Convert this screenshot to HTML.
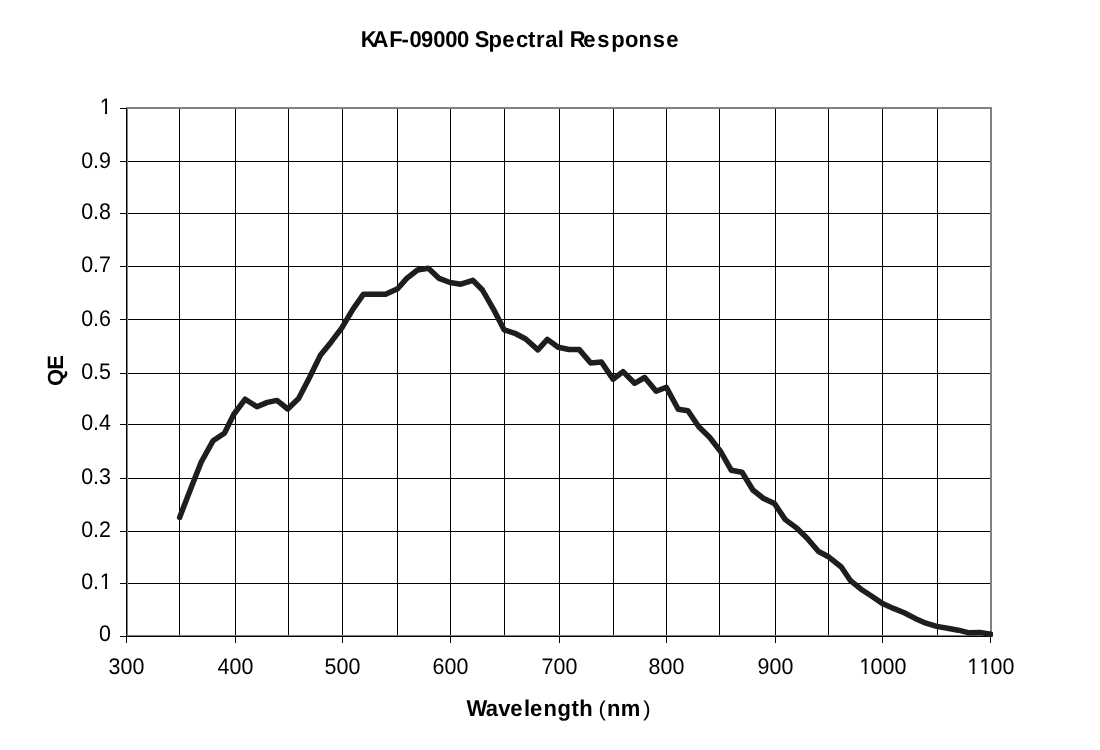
<!DOCTYPE html>
<html><head><meta charset="utf-8"><style>
html,body{margin:0;padding:0;background:#fff;}
svg{display:block;}
.t,.b{text-rendering:geometricPrecision;}
.t{font-family:"Liberation Sans",sans-serif;font-size:22px;fill:#000;}
.b{font-family:"Liberation Sans",sans-serif;font-size:22px;font-weight:bold;fill:#000;}
</style></head><body>
<svg width="1100" height="750" viewBox="0 0 1100 750">
<rect x="0" y="0" width="1100" height="750" fill="#fff"/>
<rect x="179" y="107" width="1" height="529" fill="#000"/>
<rect x="235" y="107" width="1" height="529" fill="#000"/>
<rect x="288" y="107" width="1" height="529" fill="#000"/>
<rect x="342" y="107" width="1" height="529" fill="#000"/>
<rect x="397" y="107" width="1" height="529" fill="#000"/>
<rect x="450" y="107" width="1" height="529" fill="#000"/>
<rect x="504" y="107" width="1" height="529" fill="#000"/>
<rect x="559" y="107" width="1" height="529" fill="#000"/>
<rect x="613" y="107" width="1" height="529" fill="#000"/>
<rect x="666" y="107" width="1" height="529" fill="#000"/>
<rect x="719" y="107" width="1" height="529" fill="#000"/>
<rect x="775" y="107" width="1" height="529" fill="#000"/>
<rect x="828" y="107" width="1" height="529" fill="#000"/>
<rect x="882" y="107" width="1" height="529" fill="#000"/>
<rect x="937" y="107" width="1" height="529" fill="#000"/>
<rect x="126" y="161" width="865" height="1" fill="#000"/>
<rect x="126" y="213" width="865" height="1" fill="#000"/>
<rect x="126" y="266" width="865" height="1" fill="#000"/>
<rect x="126" y="319" width="865" height="1" fill="#000"/>
<rect x="126" y="373" width="865" height="1" fill="#000"/>
<rect x="126" y="424" width="865" height="1" fill="#000"/>
<rect x="126" y="478" width="865" height="1" fill="#000"/>
<rect x="126" y="531" width="865" height="1" fill="#000"/>
<rect x="126" y="583" width="865" height="1" fill="#000"/>
<rect x="126" y="107" width="866" height="2" fill="#808080"/>
<rect x="990" y="107" width="2" height="530" fill="#808080"/>
<rect x="126" y="107" width="2" height="530" fill="#808080"/>
<rect x="126" y="635" width="866" height="2" fill="#808080"/>
<rect x="126" y="108" width="1" height="529" fill="#000"/>
<rect x="126" y="636" width="865" height="1" fill="#000"/>
<rect x="120" y="636" width="6" height="1" fill="#000"/>
<rect x="120" y="583" width="6" height="1" fill="#000"/>
<rect x="120" y="531" width="6" height="1" fill="#000"/>
<rect x="120" y="478" width="6" height="1" fill="#000"/>
<rect x="120" y="424" width="6" height="1" fill="#000"/>
<rect x="120" y="373" width="6" height="1" fill="#000"/>
<rect x="120" y="319" width="6" height="1" fill="#000"/>
<rect x="120" y="266" width="6" height="1" fill="#000"/>
<rect x="120" y="213" width="6" height="1" fill="#000"/>
<rect x="120" y="161" width="6" height="1" fill="#000"/>
<rect x="120" y="108" width="6" height="1" fill="#000"/>
<rect x="126" y="636" width="1" height="7" fill="#000"/>
<rect x="235" y="636" width="1" height="7" fill="#000"/>
<rect x="342" y="636" width="1" height="7" fill="#000"/>
<rect x="450" y="636" width="1" height="7" fill="#000"/>
<rect x="559" y="636" width="1" height="7" fill="#000"/>
<rect x="666" y="636" width="1" height="7" fill="#000"/>
<rect x="775" y="636" width="1" height="7" fill="#000"/>
<rect x="882" y="636" width="1" height="7" fill="#000"/>
<rect x="990" y="636" width="1" height="7" fill="#000"/>
<defs><clipPath id="pc"><rect x="0" y="0" width="993" height="750"/></clipPath></defs>
<polyline clip-path="url(#pc)" points="179.60,517.40 190.42,489.50 201.23,462.00 213.00,440.80 224.40,433.20 233.68,414.50 245.20,399.20 257.00,406.80 267.30,402.40 276.94,400.40 287.76,409.00 298.58,398.50 309.39,377.80 320.21,355.60 331.02,342.20 341.84,327.80 352.66,309.60 363.47,294.20 374.29,294.20 385.60,294.20 397.60,288.80 406.74,278.40 417.55,270.00 428.37,268.20 439.18,278.40 450.00,282.50 460.82,284.20 472.80,280.30 482.45,290.00 493.26,308.80 504.08,329.80 514.90,333.30 525.71,339.00 537.90,349.90 547.34,339.40 558.16,347.30 568.98,349.50 579.30,349.60 590.70,363.00 601.42,362.00 613.00,379.20 623.06,371.60 634.60,383.30 644.69,377.50 656.20,391.20 666.32,387.20 678.20,409.20 687.95,410.80 698.77,426.80 709.58,437.20 720.40,451.20 731.22,470.20 742.03,472.30 752.85,490.00 763.66,498.50 774.48,503.60 785.30,519.60 796.11,527.60 806.93,538.00 818.50,551.50 828.56,556.80 841.30,567.00 850.19,580.30 861.01,589.20 871.82,596.30 882.64,603.60 893.46,608.40 904.27,612.70 915.09,618.40 925.90,623.20 936.72,626.40 947.54,628.20 958.35,630.20 969.17,632.80 979.98,632.40 990.80,634.30" fill="none" stroke="#1e1e1e" stroke-width="5.5" stroke-linejoin="round" stroke-linecap="round"/>
<g style="will-change:transform">
<g transform="translate(111,641.4) scale(0.975,1.025)"><text class="t" x="-12.24" y="0">0</text></g>
<g transform="translate(111,588.6) scale(0.975,1.025)"><text class="t" x="-30.59 -18.35 -11.64" y="0">0.1</text><rect x="-10.64" y="-2.3" width="4.45" height="3.2" fill="#fff"/><rect x="-4.08" y="-2.3" width="4.34" height="3.2" fill="#fff"/></g>
<g transform="translate(111,536.6) scale(0.975,1.025)"><text class="t" x="-30.59 -18.35 -12.24" y="0">0.2</text></g>
<g transform="translate(111,483.6) scale(0.975,1.025)"><text class="t" x="-30.59 -18.35 -12.24" y="0">0.3</text></g>
<g transform="translate(111,429.7) scale(0.975,1.025)"><text class="t" x="-30.59 -18.35 -12.24" y="0">0.4</text></g>
<g transform="translate(111,378.6) scale(0.975,1.025)"><text class="t" x="-30.59 -18.35 -12.24" y="0">0.5</text></g>
<g transform="translate(111,325.5) scale(0.975,1.025)"><text class="t" x="-30.59 -18.35 -12.24" y="0">0.6</text></g>
<g transform="translate(111,271.6) scale(0.975,1.025)"><text class="t" x="-30.59 -18.35 -12.24" y="0">0.7</text></g>
<g transform="translate(111,218.6) scale(0.975,1.025)"><text class="t" x="-30.59 -18.35 -12.24" y="0">0.8</text></g>
<g transform="translate(111,167.5) scale(0.975,1.025)"><text class="t" x="-30.59 -18.35 -12.24" y="0">0.9</text></g>
<g transform="translate(111,113.8) scale(0.975,1.025)"><text class="t" x="-11.64" y="0">1</text><rect x="-10.64" y="-2.3" width="4.45" height="3.2" fill="#fff"/><rect x="-4.08" y="-2.3" width="4.34" height="3.2" fill="#fff"/></g>
<g transform="translate(126.5,673.5) scale(0.975,1.025)"><text class="t" x="-18.35 -6.12 6.12" y="0">300</text></g>
<g transform="translate(235.5,673.5) scale(0.975,1.025)"><text class="t" x="-18.35 -6.12 6.12" y="0">400</text></g>
<g transform="translate(342.5,673.5) scale(0.975,1.025)"><text class="t" x="-18.35 -6.12 6.12" y="0">500</text></g>
<g transform="translate(450.5,673.5) scale(0.975,1.025)"><text class="t" x="-18.35 -6.12 6.12" y="0">600</text></g>
<g transform="translate(559.5,673.5) scale(0.975,1.025)"><text class="t" x="-18.35 -6.12 6.12" y="0">700</text></g>
<g transform="translate(666.5,673.5) scale(0.975,1.025)"><text class="t" x="-18.35 -6.12 6.12" y="0">800</text></g>
<g transform="translate(775.5,673.5) scale(0.975,1.025)"><text class="t" x="-18.35 -6.12 6.12" y="0">900</text></g>
<g transform="translate(882.5,673.5) scale(0.975,1.025)"><text class="t" x="-23.87 -12.24 0.00 12.24" y="0">1000</text><rect x="-22.87" y="-2.3" width="4.45" height="3.2" fill="#fff"/><rect x="-16.31" y="-2.3" width="4.34" height="3.2" fill="#fff"/></g>
<g transform="translate(990.5,673.5) scale(0.975,1.025)"><text class="t" x="-23.87 -11.64 0.00 12.24" y="0">1100</text><rect x="-22.87" y="-2.3" width="4.45" height="3.2" fill="#fff"/><rect x="-16.31" y="-2.3" width="4.34" height="3.2" fill="#fff"/><rect x="-10.64" y="-2.3" width="4.45" height="3.2" fill="#fff"/><rect x="-4.08" y="-2.3" width="4.34" height="3.2" fill="#fff"/></g>
<g transform="translate(0,46.8) scale(1.0,1.04)"><text class="b" x="360.75 372.47 389.25 401.40 409.55 421.06 433.20 445.15 456.95 469.18 474.65 488.38 502.20 516.02 527.96 536.04 545.24 557.70 563.82 569.67 583.20 597.32 611.13 625.03 638.61 652.65 666.18" y="0">KAF-09000 Spectral Response</text></g>
<g transform="translate(0,715.75) scale(1.0,1.04)"><text class="b" x="466.62 485.87 498.26 510.20 524.08 529.95 543.61 557.57 571.46 579.32 592.76" y="0">Wavelength </text></g><g transform="translate(0,715.75) scale(1.0,0.97)"><text class="t" x="598.59" y="0">(</text></g><g transform="translate(0,715.75) scale(1.0,1.04)"><text class="b" x="606.99 620.80" y="0">nm</text></g><g transform="translate(0,715.75) scale(1.0,0.97)"><text class="t" x="643.20" y="0">)</text></g>
<g transform="translate(63,385) rotate(-90) scale(1.0,1.0)"><text class="b" x="-1.00 15.31" y="0">QE</text></g>
</g>
</svg>
</body></html>
